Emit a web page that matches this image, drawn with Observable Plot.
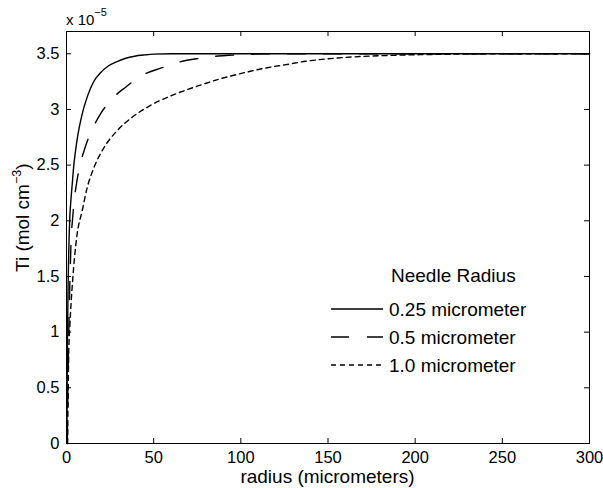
<!DOCTYPE html>
<html>
<head>
<meta charset="utf-8">
<script src="https://cdn.jsdelivr.net/npm/d3@7"></script>
<script src="https://cdn.jsdelivr.net/npm/@observablehq/plot@0.6"></script>
<style>
  html, body { margin: 0; padding: 0; background: #fff; }
  #chart { position: relative; width: 603px; height: 488px; }
  svg text { font-family: "Liberation Sans", Arial, Helvetica, sans-serif; }
</style>
</head>
<body>
<div id="chart"></div>
<script>
// ---- data (values in units of 1e-5 mol cm^-3) ----
const seriesNames = ["0.25 micrometer", "0.5 micrometer", "1.0 micrometer"];

const r025 = [0.25, 0.4, 0.6, 0.9, 1.3, 1.9, 2.6, 3.3, 4.2, 5.2, 6.5, 8, 9.5, 11, 13.8, 16, 19.5, 24, 29, 34, 39, 45, 50, 60, 80, 120, 200, 300];
const c025 = [0, 0.6, 1.0, 1.4, 1.73, 2.03, 2.2, 2.33, 2.5, 2.63, 2.77, 2.89, 2.99, 3.07, 3.19, 3.26, 3.33, 3.39, 3.43, 3.46, 3.478, 3.49, 3.497, 3.5, 3.5, 3.5, 3.5, 3.5];

const r05 = [0.5, 0.8, 1.2, 1.7, 2.2, 2.7, 3.4, 4.2, 5.7, 7.6, 10.3, 14.7, 19.5, 26.2, 33.9, 43.4, 54, 64.5, 75.9, 87, 95, 109, 130, 200, 300];
const c05 = [0, 0.5, 0.9, 1.3, 1.6, 1.85, 2.0, 2.15, 2.33, 2.49, 2.64, 2.82, 2.96, 3.097, 3.2, 3.306, 3.371, 3.425, 3.458, 3.48, 3.488, 3.497, 3.5, 3.5, 3.5];

const r10 = [0.6, 0.9, 1.3, 1.9, 2.7, 3.6, 4.6, 6.1, 9, 11.9, 15.7, 21.4, 29.1, 37.7, 48, 58, 67, 79, 87, 98, 106, 117, 125, 136, 150, 165, 184, 203, 225, 250, 300];
const c10 = [0, 0.4, 0.83, 1.05, 1.28, 1.48, 1.67, 1.88, 2.09, 2.3, 2.476, 2.655, 2.81, 2.93, 3.035, 3.11, 3.165, 3.23, 3.27, 3.315, 3.345, 3.38, 3.40, 3.43, 3.455, 3.472, 3.485, 3.492, 3.497, 3.5, 3.5];

const xTicks = [0, 50, 100, 150, 200, 250, 300];
const yTicks = [0, 0.5, 1, 1.5, 2, 2.5, 3, 3.5];
const dashes = [null, "18,18", "5,4"];

const rows = [];
[[r025, c025], [r05, c05], [r10, c10]].forEach(([rs, cs], i) => {
  rs.forEach((r, j) => rows.push({series: seriesNames[i], r, c: cs[j]}));
});

const W = 603, H = 488;
const mL = 66, mR = 14, mT = 31, mB = 45;
const plotW = W - mL - mR, plotH = H - mT - mB;

const marks = [
  Plot.frame({stroke: "#000", strokeWidth: 1}),
  // inward ticks on all four sides
  Plot.tickX(xTicks, {x: d => d, insetTop: plotH - 5, stroke: "#000"}),
  Plot.tickX(xTicks, {x: d => d, insetBottom: plotH - 5, stroke: "#000"}),
  Plot.tickY(yTicks, {y: d => d, insetRight: plotW - 5, stroke: "#000"}),
  Plot.tickY(yTicks, {y: d => d, insetLeft: plotW - 5, stroke: "#000"}),
  Plot.axisX({ticks: xTicks, tickSize: 0, tickPadding: 8, tickFormat: d => String(d), fontSize: 16.5, label: null}),
  Plot.axisY({ticks: yTicks, tickSize: 0, tickPadding: 7, tickFormat: d => String(d), fontSize: 16.5, label: null}),
];
seriesNames.forEach((name, i) => {
  marks.push(Plot.line(rows.filter(d => d.series === name), {
    x: "r", y: "c", stroke: "#000", strokeWidth: 1.4,
    strokeDasharray: dashes[i] || undefined, curve: "monotone-x"
  }));
});

const svgNode = Plot.plot({
  width: W, height: H,
  marginLeft: mL, marginRight: mR, marginTop: mT, marginBottom: mB,
  x: {domain: [0, 300]},
  y: {domain: [0, 3.7]},
  style: {fontFamily: "Liberation Sans, Arial, sans-serif", fontSize: "16px", color: "#000", background: "#fff"},
  marks
});
document.getElementById("chart").appendChild(svgNode);

const svg = d3.select(svgNode);
const ff = "Liberation Sans, Arial, sans-serif";

// x-axis title
svg.append("text").attr("x", mL + plotW / 2).attr("y", 483)
  .attr("text-anchor", "middle").attr("font-size", 19).attr("fill", "#000")
  .attr("font-family", ff).text("radius (micrometers)");

// y-axis title with superscript
const yt = svg.append("text").attr("transform", "translate(29,272) rotate(-90)")
  .attr("text-anchor", "start")
  .attr("font-size", 19).attr("fill", "#000").attr("font-family", ff);
yt.append("tspan").text("Ti (mol cm");
yt.append("tspan").attr("dy", -8).attr("font-size", 12.5).text("\u22123");
yt.append("tspan").attr("dy", 8).text(")");

// exponent label
const ex = svg.append("text").attr("x", 66).attr("y", 25).attr("text-anchor", "start")
  .attr("font-size", 15).attr("fill", "#000").attr("font-family", ff);
ex.append("tspan").text("x 10");
ex.append("tspan").attr("dy", -9).attr("font-size", 11).text("\u22125");

// legend
const lg = svg.append("g").attr("text-anchor", "start");
lg.append("text").attr("x", 391).attr("y", 282).attr("font-size", 19).attr("fill", "#000")
  .attr("font-family", ff).text("Needle Radius");
const rowY = [309, 337, 365];
seriesNames.forEach((name, i) => {
  lg.append("line").attr("x1", 331).attr("x2", 383).attr("y1", rowY[i]).attr("y2", rowY[i])
    .attr("stroke", "#000").attr("stroke-width", 1.4)
    .attr("stroke-dasharray", dashes[i]);
  lg.append("text").attr("x", 389).attr("y", rowY[i] + 6.5).attr("font-size", 19).attr("fill", "#000")
    .attr("font-family", ff).text(name);
});
</script>
</body>
</html>
